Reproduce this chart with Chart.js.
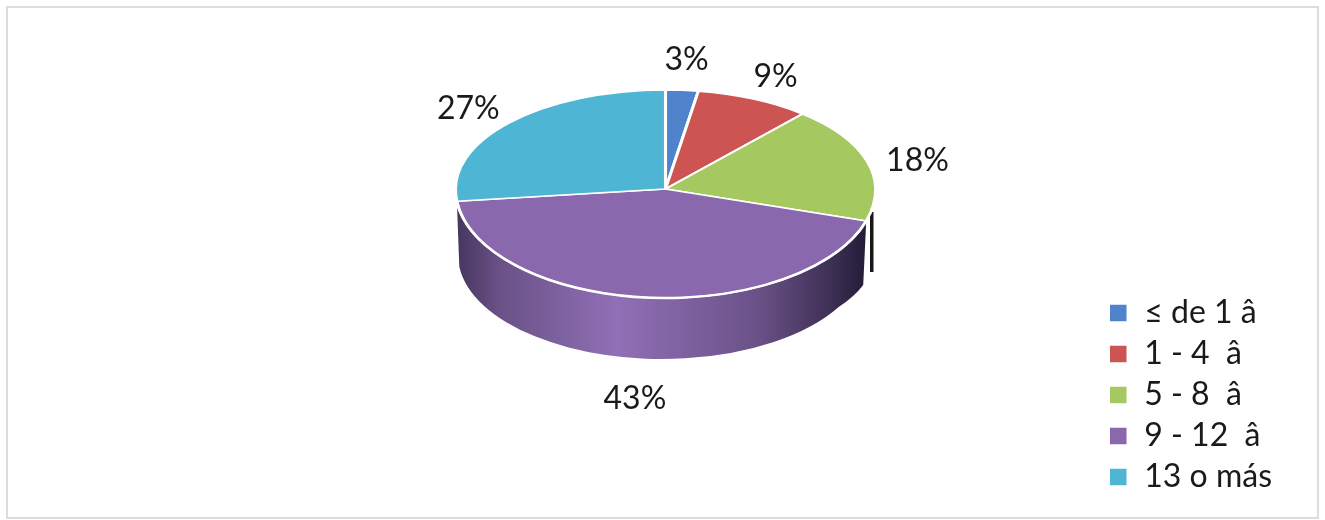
<!DOCTYPE html>
<html>
<head>
<meta charset="utf-8">
<style>
    html, body { margin: 0; padding: 0; background: #fff; }
    #wrap { width: 1325px; height: 520px; }
</style>
<script src="https://cdn.jsdelivr.net/npm/chart.js@4"></script>
</head>
<body>
<div id="wrap"><canvas id="myChart" width="1325" height="520"></canvas></div>
<script>
var categories = ["≤ de 1 â", "1 - 4  â", "5 - 8  â", "9 - 12  â", "13 o más"]
var shares = [2.5, 8.8, 18.45, 43.45, 26.8]
var colors = ["#4f83cc", "#cc5553", "#a6c860", "#8968ad", "#4fb5d4"]

var fontName = "Lato, 'Open Sans', sans-serif"
var fontSize = 32

// the tilted disc: top ellipse, and the rim of the lower face
var disc = { x: 665.5, y: 189, rx: 210, ryBack: 99, ryFront: 109 }
var rim = { x: 662, y: 255, rx: 204, ry: 104 }
var labelRing = { rx: 255, ry: 132 }
var labelNudge = [[1, 2], [3, 7], [7, 8], [-7, 12], [-7, 8]]

var toRad = Math.PI / 180

function drawPurpleWall(ctx, a0, a1) {
    var grad = ctx.createLinearGradient(rim.x - rim.rx, 0, disc.x + disc.rx, 0)
    grad.addColorStop(0, "#47375f")
    grad.addColorStop(0.1, "#6a5187")
    grad.addColorStop(0.38, "#9070b6")
    grad.addColorStop(0.72, "#6a5187")
    grad.addColorStop(0.9, "#3c2e52")
    grad.addColorStop(1, "#1c1730")

    var topX = disc.x + disc.rx * Math.cos(a0)
    var topY = disc.y + disc.ryFront * Math.sin(a0)
    var turn = 30 * toRad

    ctx.beginPath()
    ctx.ellipse(disc.x, disc.y, disc.rx, disc.ryFront, 0, a0, a1)
    ctx.ellipse(rim.x, rim.y, rim.rx, rim.ry, 0, a1, turn, true)
    // right end of the wall stays almost upright
    ctx.quadraticCurveTo(topX - 12, topY + 76, topX - 3, topY + 64)
    ctx.closePath()
    ctx.fillStyle = grad
    ctx.fill()
}

function drawGreenSliver(ctx) {
    // green only shows as a dark sliver behind the purple side
    ctx.save()
    ctx.beginPath()
    ctx.rect(870, 212, 3.5, 60)
    ctx.clip()
    ctx.beginPath()
    ctx.ellipse(disc.x, disc.y + 50, disc.rx, disc.ryBack * 3, 0, 0, Math.PI * 2)
    ctx.fillStyle = "#17161b"
    ctx.fill()
    ctx.restore()
}

var piePlugin = {
    id: "tiltedPie",
    beforeDraw: function(chart) {
        var ctx = chart.ctx
        ctx.save()
        ctx.fillStyle = "#fff"
        ctx.fillRect(0, 0, chart.width, chart.height)
        ctx.strokeStyle = "#dcdcdc"
        ctx.lineWidth = 2
        ctx.strokeRect(7, 7, 1311, 511)
        ctx.restore()
    },
    beforeDatasetDraw: function(chart) {
        var ctx = chart.ctx
        var arcs = chart.getDatasetMeta(0).data
        var first = arcs[0]
        drawGreenSliver(ctx)
        drawPurpleWall(ctx, arcs[3].startAngle, arcs[3].endAngle)

        // back half and front half have different foreshortening
        var halves = [
            { top: 0, h: disc.y, ry: disc.ryBack },
            { top: disc.y, h: chart.height - disc.y, ry: disc.ryFront }
        ]
        halves.forEach(function(half) {
            ctx.save()
            ctx.beginPath()
            ctx.rect(0, half.top, chart.width, half.h)
            ctx.clip()
            var sx = disc.rx / first.outerRadius
            var sy = half.ry / first.outerRadius
            ctx.translate(disc.x, disc.y)
            ctx.scale(sx, sy)
            ctx.translate(-first.x, -first.y)
            arcs.forEach(function(arc) { arc.draw(ctx) })
            ctx.restore()
        })

        // squashing thins the white edge, so redo it along the front
        ctx.save()
        ctx.beginPath()
        ctx.ellipse(disc.x, disc.y, disc.rx, disc.ryFront, 0, arcs[3].startAngle, arcs[3].endAngle)
        ctx.strokeStyle = "#fff"
        ctx.lineWidth = 2.5
        ctx.stroke()
        ctx.restore()
        return false
    },
    afterDatasetsDraw: function(chart) {
        var ctx = chart.ctx
        var arcs = chart.getDatasetMeta(0).data
        ctx.save()
        ctx.font = fontSize + "px " + fontName
        ctx.fillStyle = "#1a1a1a"
        ctx.textAlign = "center"
        ctx.textBaseline = "middle"
        arcs.forEach(function(arc, i) {
            var mid = (arc.startAngle + arc.endAngle) / 2
            var x = disc.x + labelRing.rx * Math.cos(mid) + labelNudge[i][0]
            var y = disc.y + labelRing.ry * Math.sin(mid) + labelNudge[i][1]
            if (Math.sin(mid) > 0.5) y += rim.y - disc.y
            ctx.fillText(Math.round(shares[i]) + "%", x, y)
        })
        ctx.restore()
    }
}

new Chart(document.getElementById("myChart").getContext("2d"), {
    type: "pie",
    data: {
        labels: categories,
        datasets: [{
            data: shares,
            backgroundColor: colors,
            borderColor: "#fff",
            borderWidth: 3.5
        }]
    },
    options: {
        responsive: false,
        animation: false,
        layout: { padding: { top: 19, bottom: 18, right: 43, left: 0 } },
        plugins: {
            tooltip: { enabled: false },
            legend: {
                position: "right",
                align: "end",
                labels: {
                    boxWidth: 20,
                    boxHeight: 20,
                    padding: 9,
                    color: "#1a1a1a",
                    font: { family: fontName, size: fontSize }
                }
            }
        }
    },
    plugins: [piePlugin]
})
</script>
</body>
</html>
